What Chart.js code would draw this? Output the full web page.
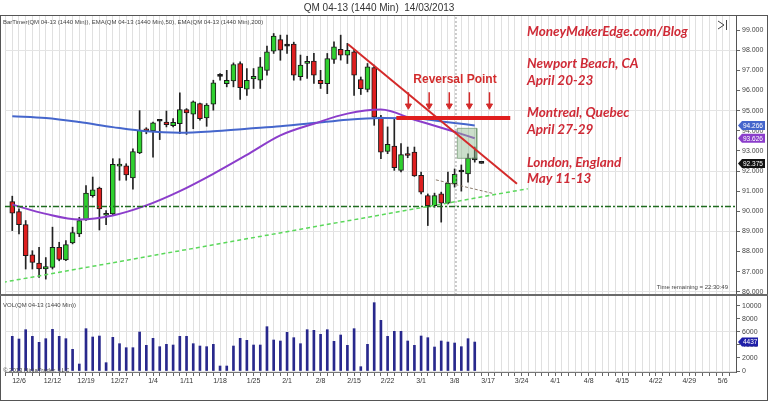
<!DOCTYPE html>
<html>
<head>
<meta charset="utf-8">
<script src="https://cdn.jsdelivr.net/npm/chart.js@4.4.1/dist/chart.umd.min.js"></script>
<style>
  html, body { margin: 0; padding: 0; background: #fff; }
  canvas { display: block; }
</style>
</head>
<body>
<canvas id="qmChart" width="768" height="401"></canvas>
<script>
// daily bars of QM 04-13, bar 0 = 12/5/2012
const opens = [90.48, 89.99, 89.34, 87.83, 87.43, 87.13, 87.21, 88.21, 87.58, 88.43,
  88.88, 89.57, 90.78, 91.15, 89.80, 89.87, 92.24, 92.26, 91.66, 92.90,
  94.03, 93.99, 94.47, 94.43, 94.25, 94.35, 95.05, 94.82, 95.35, 94.64,
  95.32, 96.70, 96.34, 96.47, 97.34, 96.06, 96.58, 96.51, 97.00, 97.95,
  98.53, 98.20, 98.30, 96.68, 97.35, 97.46, 96.51, 96.34, 97.54, 98.04,
  97.76, 97.92, 96.54, 96.05, 97.14, 94.68, 92.97, 93.24, 92.03, 92.78,
  92.94, 91.78, 90.78, 90.28, 90.86, 90.40, 91.36, 91.95, 91.86, 92.55, 92.375];
const highs = [90.75, 90.12, 89.54, 88.04, 88.21, 87.70, 89.21, 88.46, 88.54, 89.21,
  89.70, 91.28, 91.70, 91.20, 90.03, 92.61, 92.61, 92.36, 93.10, 95.00,
  94.15, 94.43, 94.52, 94.98, 94.60, 95.88, 95.10, 95.48, 95.38, 95.35,
  96.51, 96.84, 97.00, 97.37, 97.42, 97.09, 97.09, 97.64, 98.20, 98.83,
  98.75, 98.75, 98.40, 97.76, 97.70, 97.84, 97.00, 97.84, 98.42, 98.75,
  98.34, 98.04, 96.67, 97.34, 97.26, 94.77, 94.19, 94.60, 93.36, 93.19,
  93.19, 91.95, 90.86, 90.90, 90.95, 91.95, 92.10, 92.30, 92.85, 93.19, 92.375];
const lows = [89.04, 88.87, 87.13, 87.13, 86.71, 86.63, 87.13, 87.54, 87.54, 88.38,
  88.74, 89.54, 90.70, 89.07, 89.34, 89.79, 91.54, 91.54, 91.10, 92.86,
  93.85, 92.69, 93.56, 94.19, 94.19, 93.85, 93.82, 94.10, 94.52, 94.22,
  95.02, 96.51, 96.18, 96.18, 95.55, 95.76, 96.10, 96.10, 96.76, 97.84,
  97.50, 97.84, 96.51, 96.51, 96.60, 96.35, 96.10, 95.84, 97.35, 97.51,
  97.34, 95.76, 95.80, 95.93, 94.27, 92.61, 92.86, 92.03, 91.95, 92.66,
  91.73, 90.86, 89.29, 90.20, 89.46, 90.36, 91.20, 91.00, 91.45, 92.44, 92.375];
const closes = [89.90, 89.34, 87.80, 87.46, 87.13, 87.25, 88.21, 87.61, 88.34, 88.94,
  89.54, 90.90, 91.07, 90.12, 89.88, 92.33, 92.33, 91.81, 92.97, 94.02,
  94.00, 94.39, 94.47, 94.30, 94.42, 95.05, 94.88, 95.43, 94.60, 95.28,
  96.38, 96.70, 96.51, 97.29, 96.14, 96.51, 96.70, 97.17, 97.92, 98.70,
  98.00, 98.20, 96.76, 97.26, 97.43, 96.76, 96.34, 97.59, 98.17, 97.75,
  98.00, 96.76, 96.09, 97.17, 94.68, 92.94, 93.32, 92.16, 92.81, 92.77,
  91.75, 90.95, 90.28, 90.78, 90.40, 91.40, 91.83, 91.95, 92.64, 92.55, 92.375];
const volumes = [5309, 4900, 6330, 5309, 4390, 4952, 6381, 5309, 4952, 3318,
  1072, 6483, 5207, 5360, 1276, 5156, 4186, 3573, 3573, 5973,
  3931, 5003, 3727, 4084, 3982, 5309, 5309, 4186, 3829, 3727,
  4084, 766, 766, 3829, 5003, 4697, 3982, 3982, 6790, 4748,
  4595, 5922, 5105, 4186, 6330, 6228, 5616, 6330, 4543, 5513,
  3931, 6483, 664, 4084, 10465, 7760, 5309, 6075, 6075, 4595,
  3931, 5360, 5105, 3676, 4595, 4441, 4288, 3727, 4952, 4437];

// moving averages read at some bars
const emaIdx = [0, 5, 10, 15, 20, 25, 30, 35, 40, 45, 50, 55, 60, 65, 69];
const ema50 = [90.33, 89.87, 89.59, 89.79, 90.29, 91.00, 91.86, 92.80, 93.77, 94.35, 94.85, 95.05, 94.55, 94.05, 93.626];
const ema200 = [94.72, 94.63, 94.43, 94.18, 93.97, 93.90, 93.97, 94.10, 94.22, 94.38, 94.55, 94.63, 94.62, 94.42, 94.266];

// axis ticks
const tickIdx = [1, 6, 11, 16, 21, 26, 31, 36, 41, 46, 51, 56, 61, 66, 71, 76, 81, 86, 91, 96, 101, 106];
const tickLabels = ['12/6', '12/12', '12/19', '12/27', '1/4', '1/11', '1/18', '1/25', '2/1', '2/8', '2/15',
  '2/22', '3/1', '3/8', '3/17', '3/24', '4/1', '4/8', '4/15', '4/22', '4/29', '5/6'];
const priceTicks = [86, 87, 88, 89, 90, 91, 92, 93, 94, 95, 96, 97, 98, 99];
const volTicks = [0, 2000, 4000, 6000, 8000, 10000];

// drawings on the chart: [bar index, price]
const supportLevel = 90.24;
const greenTrend = [[-1.4, 86.47], [76.9, 91.12]];
const redTrend = [[50.1, 98.30], [75.3, 91.37]];
const reversalLine = [[57.3, 94.63], [74.3, 94.63]];
const arrowIdx = [59.1, 62.2, 65.2, 68.2, 71.2];
const arrowTop = 95.91, arrowTip = 95.12;
const smallTrend = [[63.2, 91.56], [71.9, 90.87]];
const shadeBox = [[66.4, 94.12], [69.3, 94.12], [69.3, 92.63], [66.4, 92.63], [66.4, 94.12]];
const nowIdx = 66.2;

const X_MIN = -1.085, X_MAX = 107.98;
const Y_MIN = 85.84, Y_MAX = 99.70;

const green = '#2fd02f', red = '#de1f1f';
const bodyColors = opens.map((o, i) => closes[i] > o ? green : (closes[i] < o ? red : '#111'));

const pts = arr => arr.map(p => ({ x: p[0], y: p[1] }));

const arrowShafts = [];
arrowIdx.forEach(i => {
  arrowShafts.push({ x: i, y: arrowTop }, { x: i, y: arrowTip + 0.15 }, { x: i, y: null });
});

Chart.defaults.font.family = "'Liberation Sans', Arial, sans-serif";

// frame, texts and price markers
const decorations = {
  id: 'decorations',
  beforeDraw(chart) {
    const ctx = chart.ctx;
    ctx.save();
    ctx.fillStyle = '#fff';
    ctx.fillRect(0, 0, chart.width, chart.height);
    ctx.restore();
  },
  afterDraw(chart) {
    const { ctx, chartArea: a, scales } = chart;
    const y = scales.y, yv = scales.yv;
    ctx.save();

    // outer frame
    ctx.strokeStyle = '#555';
    ctx.lineWidth = 1;
    ctx.beginPath();
    ctx.moveTo(0, 15.5); ctx.lineTo(768, 15.5);
    ctx.moveTo(0.5, 15.5); ctx.lineTo(0.5, 400.5);
    ctx.moveTo(0, 400.5); ctx.lineTo(768, 400.5);
    ctx.moveTo(767.5, 15.5); ctx.lineTo(767.5, 400.5);
    ctx.stroke();

    // panel separator
    ctx.strokeStyle = '#6a6a6a';
    ctx.lineWidth = 2;
    ctx.beginPath();
    ctx.moveTo(0, yv.top); ctx.lineTo(768, yv.top);
    ctx.stroke();

    // title
    ctx.fillStyle = '#333';
    ctx.font = "10px 'Liberation Sans', Arial";
    ctx.textAlign = 'center';
    ctx.textBaseline = 'middle';
    ctx.fillText('QM 04-13 (1440 Min)  14/03/2013', 379, 8);

    // small panel texts
    ctx.font = "6px 'Liberation Sans', Arial";
    ctx.textAlign = 'left';
    ctx.fillStyle = '#444';
    ctx.fillText('BarTimer(QM 04-13 (1440 Min)), EMA(QM 04-13 (1440 Min),50), EMA(QM 04-13 (1440 Min),200)', 3, 22);
    ctx.fillText('VOL(QM 04-13 (1440 Min))', 3, yv.top + 10);
    ctx.fillText('\u00A9 2013 NinjaTrader, LLC', 3, a.bottom - 2);
    ctx.textAlign = 'right';
    ctx.fillText('Time remaining = 22:30:49', a.right - 8, y.bottom - 8);

    // ">|" button
    ctx.strokeStyle = '#444';
    ctx.lineWidth = 1;
    ctx.beginPath();
    ctx.moveTo(718, 21); ctx.lineTo(724, 25); ctx.lineTo(718, 29);
    ctx.moveTo(726.5, 20); ctx.lineTo(726.5, 30);
    ctx.stroke();

    // annotation texts
    ctx.fillStyle = '#d22c2c';
    ctx.font = "bold 12px 'Liberation Sans', Arial";
    ctx.textAlign = 'center';
    ctx.fillText('Reversal Point', 455, 80);

    ctx.fillStyle = '#cf2a36';
    ctx.font = "italic bold 13.5px Lato, 'Open Sans', sans-serif";
    ctx.textAlign = 'left';
    const lines = [
      ['MoneyMakerEdge.com/Blog', 32],
      ['Newport Beach, CA', 64],
      ['April 20-23', 81],
      ['Montreal, Quebec', 113],
      ['April 27-29', 129.5],
      ['London, England', 162.5],
      ['May 11-13', 178.5]
    ];
    lines.forEach(l => ctx.fillText(l[0], 527, l[1]));

    // price markers on the axis
    const tag = (py, text, color, w) => {
      const x0 = a.right + 2, h = 9;
      ctx.fillStyle = color;
      ctx.beginPath();
      ctx.moveTo(x0, py);
      ctx.lineTo(x0 + 4, py - h / 2);
      ctx.lineTo(x0 + w, py - h / 2);
      ctx.lineTo(x0 + w, py + h / 2);
      ctx.lineTo(x0 + 4, py + h / 2);
      ctx.closePath();
      ctx.fill();
      ctx.fillStyle = '#fff';
      ctx.font = "6.5px 'Liberation Sans', Arial";
      ctx.textAlign = 'left';
      ctx.textBaseline = 'middle';
      ctx.fillText(text, x0 + 5, py + 0.5);
    };
    const lastEma200 = ema200[ema200.length - 1];
    const lastEma50 = ema50[ema50.length - 1];
    const lastClose = closes[closes.length - 1];
    const lastVol = volumes[volumes.length - 1];
    tag(y.getPixelForValue(lastEma200), lastEma200.toFixed(3), '#4566cc', 27);
    tag(y.getPixelForValue(lastEma50), lastEma50.toFixed(3), '#8b3dcb', 27);
    tag(y.getPixelForValue(lastClose), lastClose.toFixed(3), '#111', 27);
    tag(yv.getPixelForValue(lastVol), String(lastVol), '#1f1fa8', 20);

    ctx.restore();
  }
};

const ctx = document.getElementById('qmChart').getContext('2d');
new Chart(ctx, {
  type: 'bar',
  data: {
    datasets: [
      {
        type: 'line', label: 'arrow heads', order: 0,
        data: arrowIdx.map(i => ({ x: i, y: arrowTip + 0.12 })),
        showLine: false, pointStyle: 'triangle', rotation: 180, pointRadius: 3.5,
        pointBackgroundColor: '#d42a2a', pointBorderColor: '#d42a2a', yAxisID: 'y'
      },
      {
        type: 'line', label: 'arrows', order: 0, data: arrowShafts, spanGaps: false,
        borderColor: '#d42a2a', borderWidth: 1.5, pointRadius: 0, yAxisID: 'y'
      },
      {
        type: 'line', label: 'reversal', order: 0, data: pts(reversalLine),
        borderColor: '#e01e1e', borderWidth: 4, pointRadius: 0, yAxisID: 'y'
      },
      {
        type: 'line', label: 'red trend', order: 0, data: pts(redTrend),
        borderColor: '#d42a2a', borderWidth: 2, pointRadius: 0, yAxisID: 'y'
      },
      {
        type: 'line', label: 'small trend', order: 0, data: pts(smallTrend),
        borderColor: '#8a7a6a', borderWidth: 1, borderDash: [3, 2], pointRadius: 0, yAxisID: 'y'
      },
      {
        type: 'line', label: 'green trend', order: 0, data: pts(greenTrend),
        borderColor: '#5ad85a', borderWidth: 1.5, borderDash: [4, 3], pointRadius: 0, yAxisID: 'y'
      },
      {
        type: 'line', label: 'support', order: 0,
        data: [{ x: X_MIN, y: supportLevel }, { x: X_MAX, y: supportLevel }],
        borderColor: '#1f6b1f', borderWidth: 1.5, borderDash: [6, 2, 2, 2], pointRadius: 0, yAxisID: 'y'
      },
      {
        type: 'line', label: 'shade', order: 1, data: pts(shadeBox),
        borderColor: 'rgba(110,150,110,0.7)', borderWidth: 1,
        backgroundColor: 'rgba(140,185,140,0.45)', fill: 'shape', pointRadius: 0, yAxisID: 'y'
      },
      {
        type: 'line', label: 'now', order: 1,
        data: [{ x: nowIdx, y: Y_MIN }, { x: nowIdx, y: Y_MAX }],
        borderColor: '#9a9a9a', borderWidth: 1, borderDash: [2, 2], pointRadius: 0, yAxisID: 'y'
      },
      {
        type: 'line', label: 'EMA 50', order: 1,
        data: emaIdx.map((i, k) => ({ x: i, y: ema50[k] })),
        borderColor: '#8b3dcb', borderWidth: 2, pointRadius: 0, cubicInterpolationMode: 'monotone', yAxisID: 'y'
      },
      {
        type: 'line', label: 'EMA 200', order: 1,
        data: emaIdx.map((i, k) => ({ x: i, y: ema200[k] })),
        borderColor: '#4566cc', borderWidth: 2, pointRadius: 0, cubicInterpolationMode: 'monotone', yAxisID: 'y'
      },
      {
        label: 'body', order: 2, grouped: false,
        data: opens.map((o, i) => ({ x: i, y: [o, closes[i]] })),
        backgroundColor: bodyColors, borderColor: '#1a1a1a', borderWidth: 1, borderSkipped: false,
        barThickness: 5, minBarLength: 2, yAxisID: 'y'
      },
      {
        label: 'wick', order: 3, grouped: false,
        data: lows.map((l, i) => ({ x: i, y: [l, highs[i]] })),
        backgroundColor: '#222', barThickness: 1, yAxisID: 'y'
      },
      {
        label: 'volume', order: 2, grouped: false,
        data: volumes.map((v, i) => ({ x: i, y: v })),
        backgroundColor: '#28288c', barThickness: 2, yAxisID: 'yv'
      }
    ]
  },
  options: {
    responsive: false,
    animation: false,
    events: [],
    layout: { padding: { top: 16, left: 2, right: 0, bottom: 0 } },
    plugins: { legend: { display: false }, tooltip: { enabled: false } },
    scales: {
      x: {
        type: 'linear', position: 'bottom', min: X_MIN, max: X_MAX, offset: false,
        afterBuildTicks: s => {
          const t = [];
          for (let i = -1; i <= 107; i++) t.push({ value: i });
          s.ticks = t;
        },
        afterFit: s => { s.height = 29; },
        ticks: {
          autoSkip: false, maxRotation: 0, minRotation: 0, padding: 1,
          font: { size: 7 }, color: '#333',
          callback: v => {
            const k = tickIdx.indexOf(v);
            return k >= 0 ? tickLabels[k] : '';
          }
        },
        grid: { offset: false, color: '#e0e0e0', tickColor: '#666', tickLength: 4 },
        border: { color: '#777' }
      },
      y: {
        type: 'linear', position: 'right', stack: 'panes', stackWeight: 279,
        min: Y_MIN, max: Y_MAX,
        afterBuildTicks: s => { s.ticks = priceTicks.map(v => ({ value: v })); },
        afterFit: s => { s.width = 32; },
        ticks: { autoSkip: false, font: { size: 7 }, color: '#444', padding: 2, callback: v => v.toFixed(3) },
        grid: {
          color: c => (c.tick && c.tick.value % 3 === 2) ? '#e4e4e4' : 'rgba(0,0,0,0)',
          tickColor: '#666', tickLength: 4
        },
        border: { color: '#555' }
      },
      yv: {
        type: 'linear', position: 'right', stack: 'panes', stackWeight: 77,
        min: -150, max: 11640,
        afterBuildTicks: s => { s.ticks = volTicks.map(v => ({ value: v })); },
        afterFit: s => { s.width = 32; },
        ticks: { autoSkip: false, font: { size: 7 }, color: '#444', padding: 2, callback: v => String(v) },
        grid: {
          color: c => (c.tick && (c.tick.value === 0 || c.tick.value === 6000)) ? '#e4e4e4' : 'rgba(0,0,0,0)',
          tickColor: '#666', tickLength: 4
        },
        border: { color: '#555' }
      }
    }
  },
  plugins: [decorations]
});
</script>
</body>
</html>
